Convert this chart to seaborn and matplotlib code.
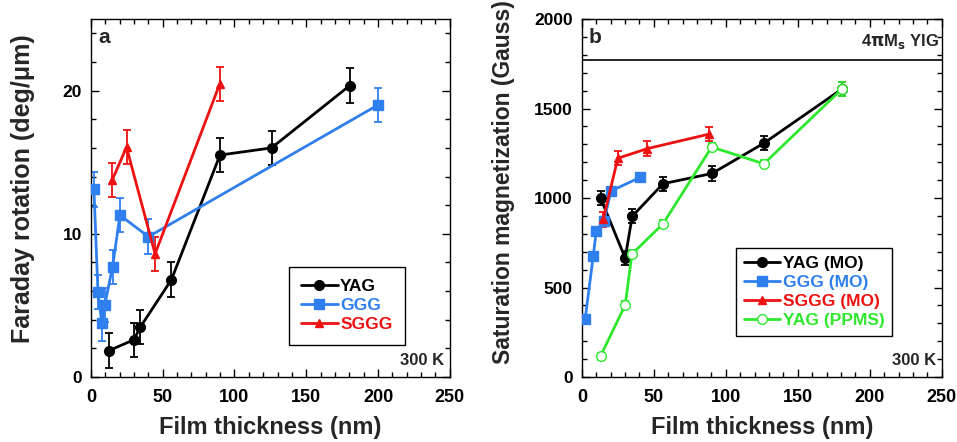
import numpy as np
import pandas as pd
import matplotlib
matplotlib.use("Agg")
import matplotlib.pyplot as plt
from matplotlib.ticker import MultipleLocator
import seaborn as sns

# ---- Panel a: Faraday rotation (deg/um) ----
a_yag_x = [12.7, 29.9, 34.5, 56.1, 89.9, 125.8, 180.3]
a_yag_y = [1.85, 2.6, 3.5, 6.8, 15.5, 16.0, 20.35]
a_yag_e = [1.2, 1.2, 1.2, 1.2, 1.2, 1.2, 1.2]

a_ggg_x = [2.1, 4.9, 7.6, 9.7, 15.1, 20.2, 40.1, 200.0]
a_ggg_y = [13.1, 5.95, 3.75, 5.05, 7.7, 11.3, 9.8, 19.0]
a_ggg_e = [1.2, 1.2, 1.2, 1.2, 1.2, 1.2, 1.2, 1.2]

a_sggg_x = [14.8, 24.8, 44.7, 89.7]
a_sggg_y = [13.75, 16.05, 8.6, 20.45]
a_sggg_e = [1.2, 1.2, 1.2, 1.2]

# ---- Panel b: Saturation magnetization (Gauss) ----
b_yag_x = [13.0, 30.1, 35.0, 56.4, 90.4, 126.4, 180.7]
b_yag_y = [1000, 665, 898, 1080, 1137, 1306, 1609]
b_yag_e = [40, 40, 40, 40, 40, 40, 40]

b_ggg_x = [2.3, 7.9, 10.0, 15.3, 20.2, 40.4]
b_ggg_y = [324, 676, 815, 869, 1039, 1115]
b_ggg_e = [25, 25, 25, 25, 25, 20]

b_sggg_x = [14.8, 25.0, 45.5, 88.4]
b_sggg_y = [880, 1222, 1276, 1357]
b_sggg_e = [40, 40, 40, 40]

b_ppms_x = [13.0, 30.1, 34.8, 56.4, 90.2, 126.4, 180.7]
b_ppms_y = [117, 402, 687, 856, 1285, 1191, 1609]
b_ppms_e = [20, 20, 20, 20, 20, 20, 40]

yig_ms = 1770

BLACK = "#000000"
BLUE = "#2f7fef"
RED = "#ee1111"
GREEN = "#2ee82e"

sns.set_theme(style="ticks")
plt.rcParams["font.family"] = ["Liberation Sans", "DejaVu Sans"]
plt.rcParams["font.weight"] = "bold"
plt.rcParams["axes.linewidth"] = 1.0

fig = plt.figure(figsize=(9.57, 4.42), dpi=100)
ax1 = fig.add_axes([0.095, 0.147, 0.375, 0.81])
ax2 = fig.add_axes([0.608, 0.147, 0.376, 0.81])


def series(ax, x, y, e, color, marker, label, mfc=None, ms=7):
    df = pd.DataFrame({"x": x, "y": y})
    sns.lineplot(data=df, x="x", y="y", ax=ax, sort=False, color=color,
                 marker=marker, markersize=ms, linewidth=2.0,
                 markerfacecolor=mfc if mfc is not None else color,
                 markeredgecolor=color, markeredgewidth=1.0,
                 label=label, zorder=3)
    ax.errorbar(x, y, yerr=e, fmt="none", ecolor=color, elinewidth=1.3,
                capsize=3, capthick=1.3, zorder=2)


series(ax1, a_yag_x, a_yag_y, a_yag_e, BLACK, "o", "YAG")
series(ax1, a_ggg_x, a_ggg_y, a_ggg_e, BLUE, "s", "GGG")
series(ax1, a_sggg_x, a_sggg_y, a_sggg_e, RED, "^", "SGGG", ms=6)

series(ax2, b_yag_x, b_yag_y, b_yag_e, BLACK, "o", "YAG (MO)")
series(ax2, b_ggg_x, b_ggg_y, b_ggg_e, BLUE, "s", "GGG (MO)")
series(ax2, b_sggg_x, b_sggg_y, b_sggg_e, RED, "^", "SGGG (MO)", ms=6)
series(ax2, b_ppms_x, b_ppms_y, b_ppms_e, GREEN, "o", "YAG (PPMS)", mfc="white")

ax2.axhline(yig_ms, color="black", linewidth=1.2, zorder=1)

ax1.set_xlim(0, 250)
ax1.set_ylim(0, 25)
ax2.set_xlim(0, 250)
ax2.set_ylim(0, 2000)

ax1.xaxis.set_major_locator(MultipleLocator(50))
ax1.xaxis.set_minor_locator(MultipleLocator(10))
ax1.yaxis.set_major_locator(MultipleLocator(10))
ax1.yaxis.set_minor_locator(MultipleLocator(2))
ax2.xaxis.set_major_locator(MultipleLocator(50))
ax2.xaxis.set_minor_locator(MultipleLocator(10))
ax2.yaxis.set_major_locator(MultipleLocator(500))
ax2.yaxis.set_minor_locator(MultipleLocator(100))

for ax in (ax1, ax2):
    ax.tick_params(which="both", direction="in", top=True, right=True,
                   width=1.0, colors="black")
    ax.tick_params(which="major", length=6)
    ax.tick_params(which="minor", length=3.5)
    ax.tick_params(axis="x", which="major", labelsize=13, pad=8.5)
    ax.tick_params(axis="y", which="major", labelsize=12.5, pad=6.5)
    for lab in ax.get_xticklabels() + ax.get_yticklabels():
        lab.set_fontweight("bold")
    for sp in ax.spines.values():
        sp.set_color("black")
        sp.set_linewidth(1.0)
    ax.set_xlabel("Film thickness (nm)", fontsize=17, fontweight="bold")
    ax.xaxis.set_label_coords(0.5, -0.108)

ax1.set_ylabel("Faraday rotation (deg/\u03bcm)", fontsize=18, fontweight="bold")
ax2.set_ylabel("Saturation magnetization (Gauss)", fontsize=16.5, fontweight="bold")
ax1.yaxis.set_label_coords(-0.155, 0.525)
ax2.yaxis.set_label_coords(-0.185, 0.545)

ax1.text(0.02, 0.975, "a", transform=ax1.transAxes, fontsize=15,
         fontweight="bold", va="top", ha="left")
ax2.text(0.02, 0.975, "b", transform=ax2.transAxes, fontsize=15,
         fontweight="bold", va="top", ha="left")
for ax in (ax1, ax2):
    ax.text(0.985, 0.025, "300 K", transform=ax.transAxes, fontsize=12,
            fontweight="bold", va="bottom", ha="right")
ax2.text(0.992, 0.91, r"4$\mathbf{\pi}$M$_\mathbf{s}$ YIG", transform=ax2.transAxes,
         fontsize=12, fontweight="bold", va="bottom", ha="right")

leg_kw = dict(frameon=True, fancybox=False, edgecolor="black", framealpha=1,
              labelcolor="linecolor", handlelength=2.1, handletextpad=0.15,
              labelspacing=0.22, borderaxespad=0.0,
              prop={"weight": "bold", "size": 12.5})
l1 = ax1.legend(loc="upper left", bbox_to_anchor=(0.552, 0.307),
                borderpad=0.7, **leg_kw)
l2 = ax2.legend(loc="upper left", bbox_to_anchor=(0.428, 0.36),
                borderpad=0.45, **leg_kw)
for l in (l1, l2):
    l.get_frame().set_linewidth(1.0)

fig.savefig("out.png", dpi=100)
